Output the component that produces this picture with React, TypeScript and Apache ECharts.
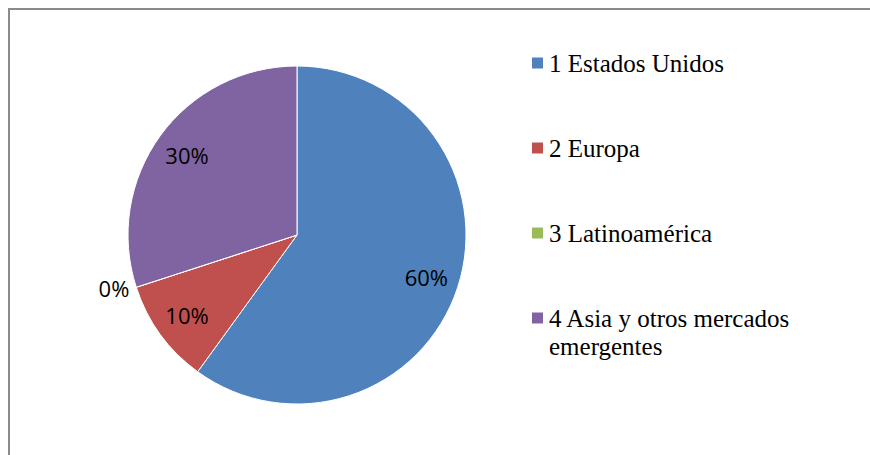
import React, { useEffect, useRef } from "react";
import * as echarts from "echarts";

const categories = ["1 Estados Unidos", "2 Europa", "3 Latinoamérica", "4 Asia y otros mercados emergentes"];
const values = [60, 10, 0, 30];
const colors = ["#4F81BD", "#C0504D", "#9BBB59", "#8064A2"];

export default function App() {
  const ref = useRef<HTMLDivElement>(null);
  useEffect(() => {
    document.body.style.margin = "0";
    const chart = echarts.init(ref.current!, null, { renderer: "svg" });
    const labelFont = { fontFamily: "'Open Sans', sans-serif", fontSize: 22, color: "#000" };
    const legendBase = {
      orient: "vertical",
      left: 530,
      padding: 0,
      itemGap: 57,
      itemWidth: 13,
      itemHeight: 13,
      icon: "rect",
      selectedMode: false,
      textStyle: {
        fontFamily: "'Liberation Serif', 'Times New Roman', serif",
        fontSize: 25,
        lineHeight: 28,
        color: "#000",
      },
    };
    chart.setOption({
      animation: false,
      backgroundColor: "#fff",
      color: colors,
      graphic: [
        {
          type: "rect",
          shape: { x: 9, y: 9, width: 900, height: 500 },
          style: { fill: "none", stroke: "#8a8a8a", lineWidth: 2 },
          silent: true,
        },
      ],
      legend: [
        { ...legendBase, top: 49, data: categories.slice(0, 3) },
        {
          ...legendBase,
          top: 276,
          formatter: (name: string) => "\n" + name.replace("mercados emergentes", "mercados\nemergentes"),
          data: categories.slice(3),
        },
      ],
      series: [
        {
          type: "pie",
          center: [297, 235],
          radius: 169,
          startAngle: 90,
          clockwise: true,
          avoidLabelOverlap: false,
          itemStyle: { borderColor: "#fff", borderWidth: 1 },
          emphasis: { disabled: true },
          labelLine: { show: false, length: 2, length2: 0 },
          label: { show: false },
          data: categories.map((c, i) => ({
            name: c,
            value: values[i],
            label:
              values[i] === 0
                ? { show: true, position: "outside", formatter: "{d}%", ...labelFont }
                : { show: false },
          })),
        },
        {
          type: "pie",
          center: [297, 235],
          radius: [100, 166],
          startAngle: 90,
          clockwise: true,
          silent: true,
          avoidLabelOverlap: false,
          itemStyle: { color: "transparent" },
          emphasis: { disabled: true },
          labelLine: { show: false },
          label: { show: true, position: "inside", formatter: "{d}%", ...labelFont },
          data: categories.map((c, i) => ({
            name: c,
            value: values[i],
            label: values[i] === 0 ? { show: false } : undefined,
          })),
        },
      ],
    });
    return () => chart.dispose();
  }, []);
  return <div ref={ref} style={{ width: 870, height: 455, position: "absolute", left: 0, top: 0 }} />;
}
